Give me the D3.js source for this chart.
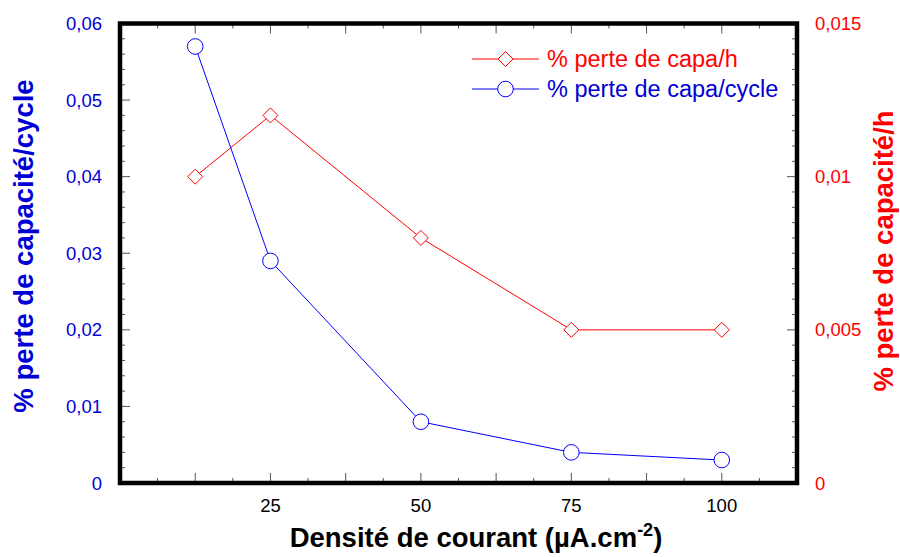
<!DOCTYPE html>
<html><head><meta charset="utf-8">
<script src="https://cdn.jsdelivr.net/npm/d3@7"></script>
<style>body{margin:0;background:#fff}svg{display:block}text{font-family:Arial,"Liberation Sans",sans-serif}</style>
</head><body><svg id="c" width="900" height="557"></svg>
<script>
const xValues = [12.5, 25, 50, 75, 100];
const perCycle = [0.057, 0.029, 0.008, 0.004, 0.003];
const perHour = [0.010, 0.012, 0.008, 0.005, 0.005];
const xTickLabels = [25, 50, 75, 100];
const leftTicks = [0, 0.01, 0.02, 0.03, 0.04, 0.05, 0.06];
const rightTicks = [0, 0.005, 0.01, 0.015];
const legendLabels = ["% perte de capa/h", "% perte de capa/cycle"];

const svg = d3.select("#c");
const L = 120, R = 797, T = 23.5, B = 483;
const x = d3.scaleLinear().domain([0, 112.5]).range([L, R]);
const yL = d3.scaleLinear().domain([0, 0.06]).range([B, T]);
const yR = d3.scaleLinear().domain([0, 0.015]).range([B, T]);
const BLUE = "#0000ff", BLUE_T = "#0000d6", RED = "#ff0000";
const tickCol = "#555";

const g = svg.append("g");
d3.range(6.25, 112.5, 6.25).forEach(v => {
  const major = Math.abs((v / 12.5) - Math.round(v / 12.5)) < 1e-6;
  const len = major ? 10 : 5;
  g.append("line").attr("x1", x(v)).attr("x2", x(v)).attr("y1", B).attr("y2", B - len).attr("stroke", tickCol);
  g.append("line").attr("x1", x(v)).attr("x2", x(v)).attr("y1", T).attr("y2", T + len).attr("stroke", tickCol);
});
d3.range(0.002, 0.06, 0.002).forEach(v => {
  const major = Math.abs(v / 0.01 - Math.round(v / 0.01)) < 1e-6;
  const len = major ? 10 : 5;
  g.append("line").attr("x1", L).attr("x2", L + len).attr("y1", yL(v)).attr("y2", yL(v)).attr("stroke", tickCol);
});
d3.range(0.0005, 0.015, 0.0005).forEach(v => {
  const major = Math.abs(v / 0.005 - Math.round(v / 0.005)) < 1e-6;
  const len = major ? 10 : 5;
  g.append("line").attr("x1", R).attr("x2", R - len).attr("y1", yR(v)).attr("y2", yR(v)).attr("stroke", tickCol);
});

svg.append("rect").attr("x", L).attr("y", T).attr("width", R - L).attr("height", B - T)
  .attr("fill", "none").attr("stroke", "#000").attr("stroke-width", 4.5);

const fmt = v => String(v).replace(".", ",");
svg.append("g").selectAll("text").data(leftTicks).join("text")
  .attr("x", 102).attr("y", d => yL(d) + 6.5).attr("text-anchor", "end")
  .attr("font-size", 18.5).attr("fill", BLUE_T).text(d => fmt(d));
svg.append("g").selectAll("text").data(rightTicks).join("text")
  .attr("x", 815).attr("y", d => yR(d) + 6.5).attr("text-anchor", "start")
  .attr("font-size", 18.5).attr("fill", RED).text(d => fmt(d));
svg.append("g").selectAll("text").data(xTickLabels).join("text")
  .attr("x", d => x(d)).attr("y", 512).attr("text-anchor", "middle")
  .attr("font-size", 18.5).attr("fill", "#000").text(d => d);

svg.append("text").attr("transform", `translate(33,246) rotate(-90)`)
  .attr("text-anchor", "middle").attr("font-size", 27.5).attr("font-weight", "bold")
  .attr("fill", BLUE_T).text("% perte de capacité/cycle");
svg.append("text").attr("transform", `translate(893,251) rotate(-90)`)
  .attr("text-anchor", "middle").attr("font-size", 27.5).attr("font-weight", "bold")
  .attr("fill", RED).text("% perte de capacité/h");
const xt = svg.append("text").attr("x", 476).attr("y", 547).attr("text-anchor", "middle")
  .attr("font-size", 27.5).attr("font-weight", "bold").attr("fill", "#000");
xt.append("tspan").text("Densité de courant (µA.cm");
xt.append("tspan").attr("dy", -11).attr("font-size", 18).text("-2");
xt.append("tspan").attr("dy", 11).text(")");

const line = (ys, yS) => d3.line().x((d, i) => x(xValues[i])).y(d => yS(d))(ys);
svg.append("path").attr("d", line(perHour, yR)).attr("fill", "none").attr("stroke", RED).attr("stroke-width", 1);
svg.append("path").attr("d", line(perCycle, yL)).attr("fill", "none").attr("stroke", BLUE).attr("stroke-width", 1);

const diamond = (cx, cy, s) => `M${cx},${cy - s}L${cx + s},${cy}L${cx},${cy + s}L${cx - s},${cy}Z`;
svg.append("g").selectAll("path").data(perHour).join("path")
  .attr("d", (d, i) => diamond(x(xValues[i]), yR(d), 7.5))
  .attr("fill", "#fff").attr("stroke", RED).attr("stroke-width", 1);
svg.append("g").selectAll("circle").data(perCycle).join("circle")
  .attr("cx", (d, i) => x(xValues[i])).attr("cy", d => yL(d)).attr("r", 7.8)
  .attr("fill", "#fff").attr("stroke", BLUE).attr("stroke-width", 1);

const lg = svg.append("g");
const rows = [{y: 59, c: RED, t: legendLabels[0], tc: RED, m: "d"}, {y: 89, c: BLUE, t: legendLabels[1], tc: BLUE_T, m: "c"}];
rows.forEach(r => {
  lg.append("line").attr("x1", 472).attr("x2", 539).attr("y1", r.y).attr("y2", r.y).attr("stroke", r.c);
  if (r.m === "d") lg.append("path").attr("d", diamond(505.5, r.y, 7.5)).attr("fill", "#fff").attr("stroke", r.c);
  else lg.append("circle").attr("cx", 505.5).attr("cy", r.y).attr("r", 7.8).attr("fill", "#fff").attr("stroke", r.c);
  lg.append("text").attr("x", 547).attr("y", r.y + 8).attr("font-size", 23.5).attr("fill", r.tc).text(r.t);
});
</script></body></html>
